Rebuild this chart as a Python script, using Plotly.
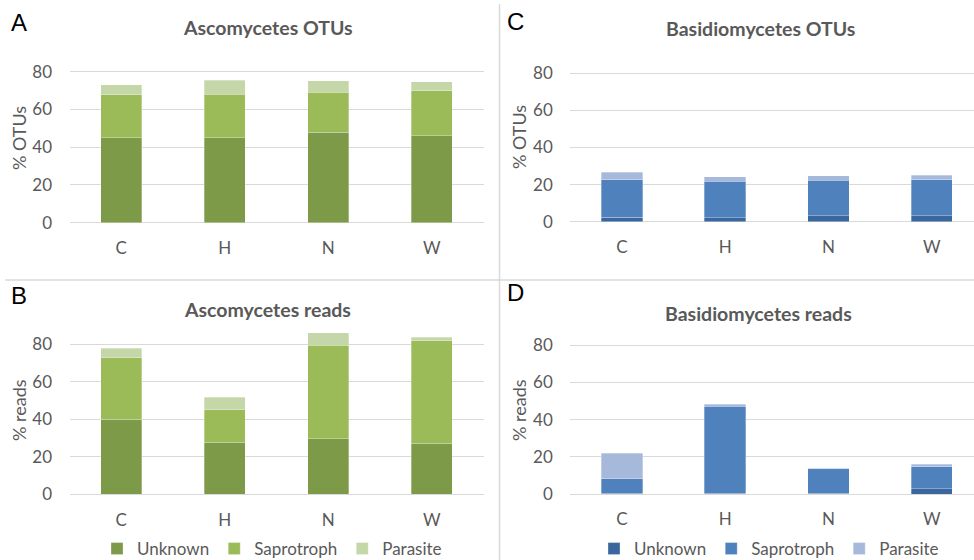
import plotly.graph_objects as go

W, H = 974, 560

sites = ["C", "H", "N", "W"]
groups = ["Unknown", "Saprotroph", "Parasite"]

asco_otus_unknown = [45.0, 44.9, 47.9, 46.1]
asco_otus_sapro = [22.7, 23.1, 21.2, 23.8]
asco_otus_parasite = [5.3, 7.4, 6.0, 4.8]

basidio_otus_unknown = [2.5, 2.2, 3.2, 3.2]
basidio_otus_sapro = [20.0, 19.7, 19.1, 19.3]
basidio_otus_parasite = [4.1, 2.4, 2.5, 2.5]

asco_reads_unknown = [40.0, 27.7, 29.7, 27.2]
asco_reads_sapro = [32.9, 17.3, 49.8, 54.8]
asco_reads_parasite = [5.1, 6.7, 6.7, 1.7]

basidio_reads_unknown = [0.3, 0.3, 0.5, 2.9]
basidio_reads_sapro = [7.8, 47.0, 13.1, 11.8]
basidio_reads_parasite = [13.8, 0.9, 0.2, 1.4]

asco_colors = ["#7c9a47", "#9bbb59", "#c5d7a8"]
basidio_colors = ["#3b679f", "#4f81bd", "#a7b9da"]

y_ticks = [0, 20, 40, 60, 80]

TXT = "#595959"
GRID = "#d9d9d9"
FONT = "Lato"

def px_x(p):
    return p / W

def px_y(p):
    return 1 - p / H

fig = go.Figure()

panels = [
    ("", [asco_otus_unknown, asco_otus_sapro, asco_otus_parasite], asco_colors, "legend", False),
    ("2", [basidio_otus_unknown, basidio_otus_sapro, basidio_otus_parasite], basidio_colors, "legend2", False),
    ("3", [asco_reads_unknown, asco_reads_sapro, asco_reads_parasite], asco_colors, "legend", True),
    ("4", [basidio_reads_unknown, basidio_reads_sapro, basidio_reads_parasite], basidio_colors, "legend2", True),
]

for suf, data, cols, leg, show in panels:
    for name, vals, c in zip(groups, data, cols):
        fig.add_trace(go.Bar(
            x=sites, y=vals, name=name, width=0.40,
            marker=dict(color=c, line=dict(color="rgba(255,255,255,0.5)", width=0.6)),
            xaxis="x" + suf, yaxis="y" + suf,
            legend=leg, showlegend=show, hoverinfo="x+y+name",
        ))

left_x = [px_x(69.5), px_x(483.5)]
right_x = [px_x(570.2), 1.0]
right_range_end = -0.5 + (974 - 570.2) / 103.3

ydoms = {
    "": [px_y(222.7), px_y(52.8)],
    "2": [px_y(221.7), px_y(54.8)],
    "3": [px_y(494.3), px_y(325.6)],
    "4": [px_y(494.0), px_y(326.7)],
}
xdoms = {"": left_x, "2": right_x, "3": left_x, "4": right_x}

layout = dict(
    width=W, height=H,
    margin=dict(l=0, r=0, t=0, b=0, autoexpand=False),
    paper_bgcolor="white", plot_bgcolor="white",
    barmode="stack",
    font=dict(family=FONT, color=TXT, size=16),
    showlegend=True,
)

for suf in ["", "2", "3", "4"]:
    xr = [-0.5, 3.5] if suf in ("", "3") else [-0.5, right_range_end]
    layout["xaxis" + suf] = dict(
        domain=xdoms[suf], anchor="y" + suf, range=xr,
        type="category", categoryorder="array", categoryarray=sites,
        showgrid=False, showline=False, zeroline=False,
        ticks="outside", ticklen=10, tickcolor="rgba(0,0,0,0)",
        tickfont=dict(size=17, color=TXT, family=FONT),
        automargin=False, fixedrange=True,
    )
    layout["yaxis" + suf] = dict(
        domain=ydoms[suf], anchor="x" + suf, range=[0, 90],
        tickvals=y_ticks, showgrid=True, gridcolor=GRID, gridwidth=1,
        zeroline=True, zerolinecolor=GRID, zerolinewidth=1,
        showline=False,
        ticks="outside", ticklen=13, tickwidth=1, tickcolor="rgba(0,0,0,0)",
        tickfont=dict(size=17, color=TXT, family=FONT),
        automargin=False, fixedrange=True,
    )

layout["legend"] = dict(
    orientation="h", x=px_x(97), y=px_y(549), xanchor="left", yanchor="middle",
    font=dict(size=17, color=TXT, family=FONT), bgcolor="rgba(0,0,0,0)",
    traceorder="normal", itemclick=False, itemdoubleclick=False,
)
layout["legend2"] = dict(
    orientation="h", x=px_x(594), y=px_y(549), xanchor="left", yanchor="middle",
    font=dict(size=17, color=TXT, family=FONT), bgcolor="rgba(0,0,0,0)",
    traceorder="normal", itemclick=False, itemdoubleclick=False,
)

annotations = []
titles = [
    ("Ascomycetes OTUs", 268, 27),
    ("Basidiomycetes OTUs", 760, 28),
    ("Ascomycetes reads", 267.5, 309),
    ("Basidiomycetes reads", 758, 313),
]
for t, x, y in titles:
    annotations.append(dict(
        text="<b>" + t + "</b>", x=px_x(x), y=px_y(y), xref="paper", yref="paper",
        xanchor="center", yanchor="middle", showarrow=False,
        font=dict(size=19.5, color=TXT, family=FONT),
    ))
ytitles = [("% OTUs", 19, 138), ("% OTUs", 519, 137), ("% reads", 19, 410), ("% reads", 519, 410)]
for t, x, y in ytitles:
    annotations.append(dict(
        text=t, x=px_x(x), y=px_y(y), xref="paper", yref="paper",
        xanchor="center", yanchor="middle", showarrow=False, textangle=-90,
        font=dict(size=18, color=TXT, family=FONT),
    ))
letters = [("A", 19, 23), ("C", 515, 22), ("B", 19, 295), ("D", 515, 292)]
for t, x, y in letters:
    annotations.append(dict(
        text=t, x=px_x(x), y=px_y(y), xref="paper", yref="paper",
        xanchor="center", yanchor="middle", showarrow=False,
        font=dict(size=24, color="black", family="Liberation Sans"),
    ))
layout["annotations"] = annotations

layout["shapes"] = [
    dict(type="line", xref="paper", yref="paper", x0=px_x(499.5), x1=px_x(499.5),
         y0=px_y(4), y1=0, line=dict(color="#d9d9d9", width=1.5)),
    dict(type="line", xref="paper", yref="paper", x0=px_x(5), x1=1,
         y0=px_y(280), y1=px_y(280), line=dict(color="#d9d9d9", width=1.5)),
]

fig.update_layout(**layout)
fig.write_html(
    "out.html",
    config={"displayModeBar": False},
    post_script="document.body.style.margin='0';document.body.style.padding='0';",
)
